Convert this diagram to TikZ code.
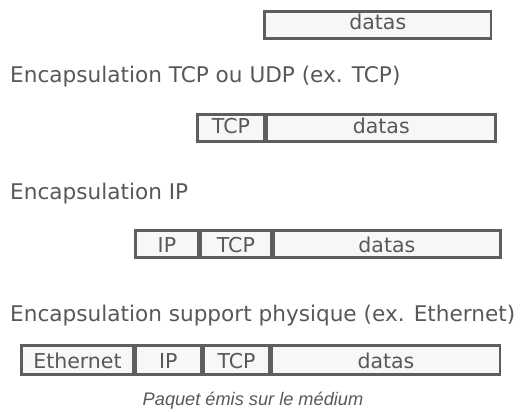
\documentclass[tikz,border=0pt]{standalone}
\usepackage{fontspec}
\setmainfont{DejaVu Sans}
\newfontfamily\captionfont{Liberation Sans}
\definecolor{ink}{HTML}{585858}
\definecolor{frame}{HTML}{5E5E5E}
\definecolor{cellfill}{HTML}{F7F7F7}
\begin{document}
\begin{tikzpicture}[x=1pt,y=-1pt,
  % one field of a frame; the text height/depth pair sets where the baseline sits
  cell/.style={draw=frame, line width=2.6pt, fill=cellfill, rectangle, anchor=west,
    minimum height=27.4pt, inner sep=0pt, text=ink,
    text height=16pt, text depth=6pt, font=\fontsize{20.5}{20.5}\selectfont},
  lowcell/.style={cell, minimum height=29.4pt, text depth=0pt},
  label/.style={anchor=base west, inner sep=0pt, text=ink, font=\fontsize{21.6}{21.6}\selectfont},
  caption/.style={anchor=base, inner sep=0pt, text=ink, font=\captionfont\itshape\fontsize{18.2}{18.2}\selectfont}]
\useasboundingbox (0,0) rectangle (520,412);
% application data
\node[cell, minimum width=226.4pt] (d1) at (263.3,25) {datas};
\node[label] (l1) at (10,83) {Encapsulation TCP ou UDP (ex. TCP)};
% transport layer
\node[cell, minimum width=66.7pt] (t2) at (196.3,128) {TCP};
\node[cell, minimum width=228.7pt] (d2) at (t2.east) {datas};
\node[label] (l2) at (10,199) {Encapsulation IP};
% network layer
\node[cell, text depth=0pt, minimum width=62.7pt] (i3) at (134.3,244) {IP};
\node[cell, text depth=0pt, minimum width=70pt] (t3) at (i3.east) {TCP};
\node[cell, text depth=0pt, minimum width=226.7pt] (d3) at (t3.east) {datas};
\node[label] (l3) at (10,321) {Encapsulation support physique (ex. Ethernet)};
% link layer
\node[lowcell, minimum width=111.7pt] (e4) at (20.3,360) {Ethernet};
\node[lowcell, minimum width=65pt] (i4) at (e4.east) {IP};
\node[lowcell, minimum width=66pt] (t4) at (i4.east) {TCP};
\node[lowcell, minimum width=227.7pt] (d4) at (t4.east) {datas};
\node[caption] (c) at (253,405) {Paquet émis sur le médium};
\end{tikzpicture}
\end{document}
